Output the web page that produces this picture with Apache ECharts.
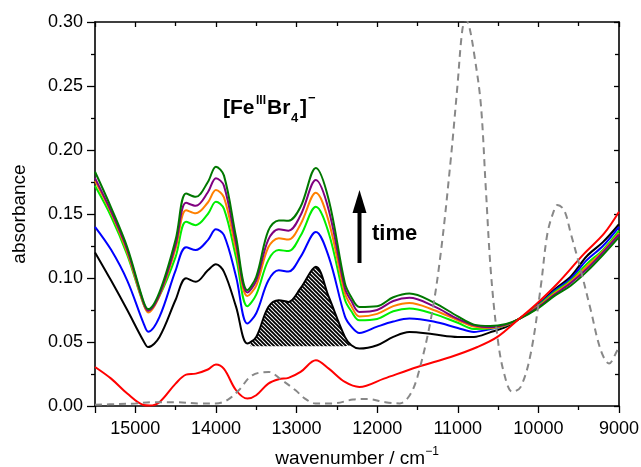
<!DOCTYPE html>
<html><head><meta charset="utf-8">
<script src="https://cdn.jsdelivr.net/npm/echarts@6/dist/echarts.min.js"></script>
<style>html,body{margin:0;padding:0;background:#fff}#c{width:641px;height:467px}</style>
</head><body><div id="c"></div>
<script>
// wavenumber grid (cm-1) shared by the six time-resolved spectra
const wavenumbers = [15500,15300,15100,14900,14840,14700,14500,14370,14250,14100,14000,13900,13750,13610,13500,13350,13220,13100,12950,12760,12600,12400,12320,12220,12000,11800,11600,11300,11000,10800,10600,10400,10250,10000,9800,9600,9400,9200,9000];
const specBlack  = [0.120,0.098,0.075,0.051,0.046,0.054,0.083,0.0998,0.097,0.106,0.1108,0.1048,0.0774,0.0488,0.054,0.0774,0.0827,0.0813,0.092,0.1087,0.0852,0.054,0.0475,0.0449,0.0475,0.054,0.0579,0.056,0.054,0.054,0.0575,0.0618,0.0676,0.0795,0.091,0.101,0.117,0.128,0.142];
const specBlue   = [0.140,0.122,0.098,0.065,0.058,0.0696,0.106,0.124,0.1218,0.1296,0.138,0.1335,0.101,0.0644,0.0725,0.098,0.106,0.105,0.1165,0.136,0.1165,0.070,0.062,0.057,0.062,0.066,0.0683,0.066,0.061,0.0579,0.060,0.063,0.0676,0.079,0.090,0.0995,0.114,0.125,0.140];
const specLime   = [0.172,0.148,0.118,0.080,0.0745,0.086,0.1165,0.144,0.1413,0.150,0.1595,0.154,0.116,0.078,0.087,0.114,0.1218,0.121,0.133,0.1556,0.135,0.083,0.074,0.067,0.068,0.074,0.0762,0.072,0.065,0.0602,0.0605,0.063,0.0676,0.0785,0.089,0.098,0.111,0.122,0.137];
const specOrange = [0.176,0.151,0.120,0.080,0.073,0.086,0.123,0.153,0.1505,0.159,0.1687,0.163,0.122,0.086,0.094,0.124,0.131,0.130,0.142,0.1666,0.144,0.088,0.078,0.070,0.072,0.078,0.0805,0.075,0.067,0.062,0.061,0.0633,0.0676,0.078,0.088,0.097,0.109,0.121,0.135];
const specPurple = [0.178,0.152,0.122,0.081,0.0745,0.087,0.126,0.1587,0.1564,0.167,0.178,0.172,0.127,0.0887,0.098,0.130,0.138,0.137,0.149,0.1765,0.153,0.092,0.082,0.0735,0.075,0.082,0.0845,0.078,0.068,0.063,0.0615,0.0636,0.0676,0.0775,0.087,0.096,0.107,0.120,0.134];
const specGreen  = [0.183,0.155,0.124,0.082,0.0757,0.089,0.130,0.166,0.1634,0.175,0.187,0.180,0.132,0.0905,0.101,0.137,0.145,0.1447,0.1556,0.1860,0.161,0.096,0.085,0.0774,0.078,0.085,0.0879,0.081,0.070,0.0636,0.0625,0.0640,0.0676,0.0765,0.086,0.094,0.105,0.118,0.132];
// difference / red spectrum
const redWn   = [15500,15300,15100,14900,14820,14700,14500,14370,14250,14100,14000,13900,13750,13610,13500,13350,13220,13100,12950,12760,12600,12400,12220,11916,11501,11088,10756,10508,10259,10011,9763,9432,9184,9000];
const redVals = [0.0305,0.0214,0.0097,0.0008,0.0004,0.003,0.0175,0.0245,0.0253,0.0285,0.0324,0.029,0.0123,0.0058,0.0084,0.0175,0.0209,0.022,0.0266,0.0357,0.0292,0.0188,0.0149,0.0214,0.0305,0.0383,0.0461,0.054,0.067,0.0805,0.0957,0.119,0.1348,0.1517];
// dashed grey reference spectrum
const refWn   = [15500,15200,15000,14800,14500,14200,14000,13850,13717,13550,13344,13200,13012,12900,12764,12550,12300,12121,11900,11720,11600,11501,11336,11212,11088,11005,10943,10900,10860,10798,10715,10653,10591,10508,10425,10322,10219,10095,9971,9888,9805,9764,9681,9598,9474,9350,9226,9123,9020,9000];
const refVals = [0.001,0.0015,0.002,0.003,0.003,0.002,0.002,0.005,0.0123,0.024,0.0266,0.021,0.0123,0.006,0.002,0.002,0.005,0.0055,0.003,0.002,0.008,0.0227,0.067,0.119,0.192,0.2495,0.294,0.302,0.297,0.2756,0.2365,0.171,0.106,0.054,0.0253,0.011,0.0149,0.041,0.093,0.1348,0.153,0.157,0.153,0.1348,0.106,0.0748,0.0436,0.0332,0.0436,0.046];
// hatched band under the black spectrum
const hatchFrom = 13570, hatchTo = 12320, hatchBase = 0.0467;

const FONT = '"Liberation Sans", Arial, sans-serif';
function pairs(xs, ys){ return xs.map((x,i)=>[x, ys[i]]); }
function interp(xs, ys, x){
  for (let i=0;i<xs.length-1;i++){
    const a=xs[i], b=xs[i+1];
    if ((x<=a && x>=b)||(x>=a && x<=b)){ const t=(x-a)/(b-a); return ys[i]+t*(ys[i+1]-ys[i]); }
  }
  return null;
}
const hatchData = [[hatchFrom, interp(wavenumbers, specBlack, hatchFrom)]]
  .concat(pairs(wavenumbers, specBlack).filter(p => p[0] < hatchFrom && p[0] >= hatchTo));

const pc = document.createElement('canvas'); pc.width = 4; pc.height = 4;
const g = pc.getContext('2d'); g.strokeStyle = '#000'; g.lineWidth = 1.9;
g.beginPath(); g.moveTo(-1,-1); g.lineTo(5,5); g.moveTo(-1,3); g.lineTo(1,5); g.moveTo(3,-1); g.lineTo(5,1); g.stroke();

const chart = echarts.init(document.getElementById('c'), null, {renderer:'canvas'});
const axisCommon = {
  axisLine:{show:true, onZero:false, lineStyle:{color:'#000', width:1.6}},
  splitLine:{show:false}
};
function lineSeries(name, data, color, extra){
  return Object.assign({name, type:'line', data, showSymbol:false, smooth:0.35, animation:false,
    lineStyle:{color, width:2}, itemStyle:{color}, z:3}, extra||{});
}
const option = {
  animation:false,
  grid:{left:95, right:22, top:22, bottom:61, outerBoundsMode:'none', containLabel:false},
  xAxis:[
    Object.assign({type:'value', inverse:true, min:9000, max:15500, interval:1000, position:'bottom',
      axisTick:{show:true, length:7, lineStyle:{color:'#000', width:1.3}},
      minorTick:{show:true, splitNumber:2, length:4, lineStyle:{color:'#000', width:1.3}},
      axisLabel:{formatter:v => (v % 1000 === 0 ? String(v) : ''), color:'#000', fontSize:18, fontFamily:FONT, margin:14},
      name:'{a|wavenumber / cm}{b|−1}', nameLocation:'middle', nameGap:40,
      nameTextStyle:{rich:{a:{fontSize:19, fontFamily:FONT, color:'#000', lineHeight:26},
                           b:{fontSize:12, fontFamily:FONT, color:'#000', lineHeight:10, verticalAlign:'top'}}}
    }, axisCommon),
    Object.assign({type:'value', inverse:true, min:9000, max:15500, interval:1000, position:'top',
      axisTick:{show:true, inside:true, length:5, lineStyle:{color:'#000', width:1.3}},
      minorTick:{show:true, splitNumber:2, length:4, lineStyle:{color:'#000', width:1.3}},
      axisLabel:{show:false}}, axisCommon)
  ],
  yAxis:[
    Object.assign({type:'value', min:0, max:0.30, interval:0.05, position:'left',
      axisTick:{show:true, length:8, lineStyle:{color:'#000', width:1.3}},
      minorTick:{show:true, splitNumber:2, length:4, lineStyle:{color:'#000', width:1.3}},
      axisLabel:{formatter:v => v.toFixed(2), color:'#000', fontSize:18, fontFamily:FONT, margin:12},
      name:'absorbance', nameLocation:'middle', nameGap:66,
      nameTextStyle:{fontSize:19, fontFamily:FONT, color:'#000'}
    }, axisCommon),
    Object.assign({type:'value', min:0, max:0.30, interval:0.05, position:'right',
      axisTick:{show:true, inside:true, length:5, lineStyle:{color:'#000', width:1.3}},
      minorTick:{show:true, splitNumber:2, length:4, lineStyle:{color:'#000', width:1.3}},
      axisLabel:{show:false}}, axisCommon)
  ],
  series:[
    {name:'hatch', type:'line', data:hatchData, showSymbol:false, smooth:0.35, animation:false, z:1,
      lineStyle:{width:0}, areaStyle:{origin:hatchBase, color:{image:pc, repeat:'repeat'}, opacity:1}},
    lineSeries('t0', pairs(wavenumbers, specBlack), '#000000'),
    lineSeries('t1', pairs(wavenumbers, specBlue), '#0000ff'),
    lineSeries('t2', pairs(wavenumbers, specLime), '#00ee00'),
    lineSeries('t3', pairs(wavenumbers, specOrange), '#ff8000'),
    lineSeries('t4', pairs(wavenumbers, specPurple), '#800080'),
    lineSeries('t5', pairs(wavenumbers, specGreen), '#007800'),
    lineSeries('diff', pairs(redWn, redVals), '#ff0000', {z:4}),
    lineSeries('ref', pairs(refWn, refVals), '#888888', {z:5, lineStyle:{color:'#888888', width:2, type:[7,5]}})
  ],
  graphic:[
    {type:'rect', shape:{x:357.5, y:208, width:4, height:55}, style:{fill:'#000'}},
    {type:'polygon', shape:{points:[[352.5,213],[366.5,213],[359.5,190]]}, style:{fill:'#000'}},
    {type:'text', style:{x:372, y:234, text:'time', font:'bold 22px '+FONT, fill:'#000', textVerticalAlign:'middle', verticalAlign:'middle'}},
    {type:'text', style:{x:223, y:108, text:'[Fe', font:'bold 21px '+FONT, fill:'#000', textVerticalAlign:'middle', verticalAlign:'middle'}},
    {type:'text', style:{x:256, y:101, text:'III', font:'bold 12px '+FONT, fill:'#000', textVerticalAlign:'middle', verticalAlign:'middle'}},
    {type:'text', style:{x:267, y:108, text:'Br', font:'bold 21px '+FONT, fill:'#000', textVerticalAlign:'middle', verticalAlign:'middle'}},
    {type:'text', style:{x:291, y:118.5, text:'4', font:'bold 13px '+FONT, fill:'#000', textVerticalAlign:'middle', verticalAlign:'middle'}},
    {type:'text', style:{x:300, y:108, text:']', font:'bold 21px '+FONT, fill:'#000', textVerticalAlign:'middle', verticalAlign:'middle'}},
    {type:'text', style:{x:308, y:98, text:'−', font:'bold 13px '+FONT, fill:'#000', textVerticalAlign:'middle', verticalAlign:'middle'}}
  ]
};
chart.setOption(option);
</script>
</body></html>
